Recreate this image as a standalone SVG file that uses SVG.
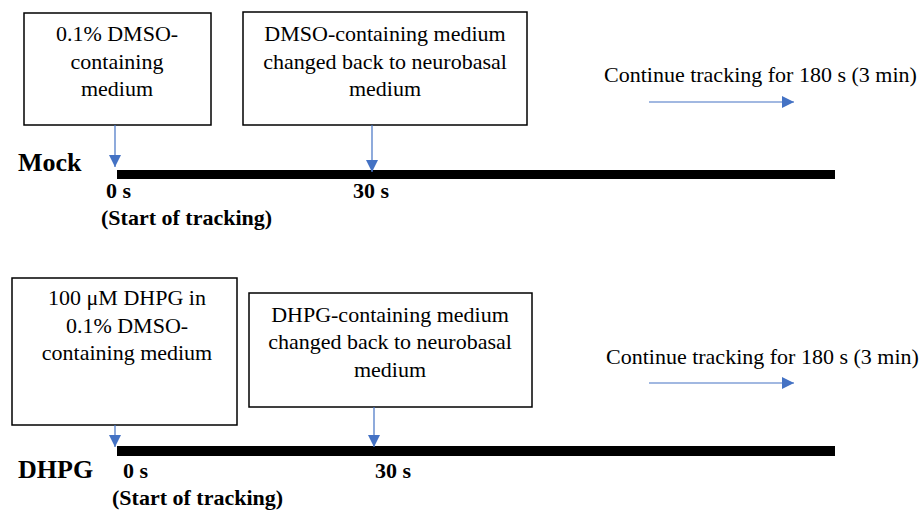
<svg xmlns="http://www.w3.org/2000/svg" width="921" height="511" viewBox="0 0 921 511">
<style>
  text { font-family: "Liberation Serif", "Times New Roman", serif; fill: #000; }
  .box { fill: #fff; stroke: #000; stroke-width: 1.5; }
  .bt { font-size: 22px; text-anchor: middle; }
  .lbl { font-size: 22px; }
  .bold { font-weight: bold; font-size: 22px; }
  .grp { font-weight: bold; font-size: 26px; }
  .bar { fill: #000; }
  .conn { stroke: #4472C4; stroke-width: 1.2; fill: none; marker-end: url(#ah); }
</style>
<defs>
  <marker id="ah" viewBox="0 0 12 12" refX="12" refY="6" markerWidth="12" markerHeight="12" markerUnits="userSpaceOnUse" orient="auto">
    <path d="M0,0 L12,6 L0,12 z" fill="#4472C4"/>
  </marker>
</defs>
<rect width="921" height="511" fill="#fff"/>

<g id="timeline-mock">
  <rect class="bar" x="117" y="170" width="718" height="9"/>
  <text class="grp" x="18" y="171">Mock</text>
  <text class="bold" x="106" y="198">0 s</text>
  <text class="bold" x="353" y="198">30 s</text>
  <text class="bold" x="101" y="225">(Start of tracking)</text>
</g>
<g id="box-mock-dmso">
  <rect class="box" x="24" y="13" width="187" height="112"/>
  <text class="bt" x="117" y="41">0.1% DMSO-</text>
  <text class="bt" x="117" y="69">containing</text>
  <text class="bt" x="117" y="96">medium</text>
</g>
<g id="box-mock-back">
  <rect class="box" x="243" y="12" width="284" height="113"/>
  <text class="bt" x="385" y="41">DMSO-containing medium</text>
  <text class="bt" x="385" y="69">changed back to neurobasal</text>
  <text class="bt" x="385" y="96">medium</text>
</g>
<g id="continue-mock">
  <text class="lbl" x="604" y="82">Continue tracking for 180 s (3 min)</text>
</g>

<g id="timeline-dhpg">
  <rect class="bar" x="117" y="446" width="718" height="10"/>
  <text class="grp" x="18" y="478">DHPG</text>
  <text class="bold" x="123" y="478">0 s</text>
  <text class="bold" x="375" y="478">30 s</text>
  <text class="bold" x="112" y="505">(Start of tracking)</text>
</g>
<g id="box-dhpg">
  <rect class="box" x="12" y="278" width="225" height="147"/>
  <text class="bt" x="127" y="305">100 μM DHPG in</text>
  <text class="bt" x="127" y="333">0.1% DMSO-</text>
  <text class="bt" x="127" y="360">containing medium</text>
</g>
<g id="box-dhpg-back">
  <rect class="box" x="249" y="293" width="283" height="114"/>
  <text class="bt" x="390" y="322">DHPG-containing medium</text>
  <text class="bt" x="390" y="349">changed back to neurobasal</text>
  <text class="bt" x="390" y="377">medium</text>
</g>
<g id="continue-dhpg">
  <text class="lbl" x="606" y="364">Continue tracking for 180 s (3 min)</text>
</g>

<g id="connectors">
  <line class="conn" x1="115" y1="125" x2="115" y2="167"/>
  <line class="conn" x1="372" y1="125" x2="372" y2="172"/>
  <line class="conn" x1="649" y1="102" x2="794" y2="102"/>
  <line class="conn" x1="115" y1="425" x2="115" y2="447"/>
  <line class="conn" x1="374" y1="407" x2="374" y2="447"/>
  <line class="conn" x1="649" y1="383" x2="794" y2="383"/>
</g>
</svg>
